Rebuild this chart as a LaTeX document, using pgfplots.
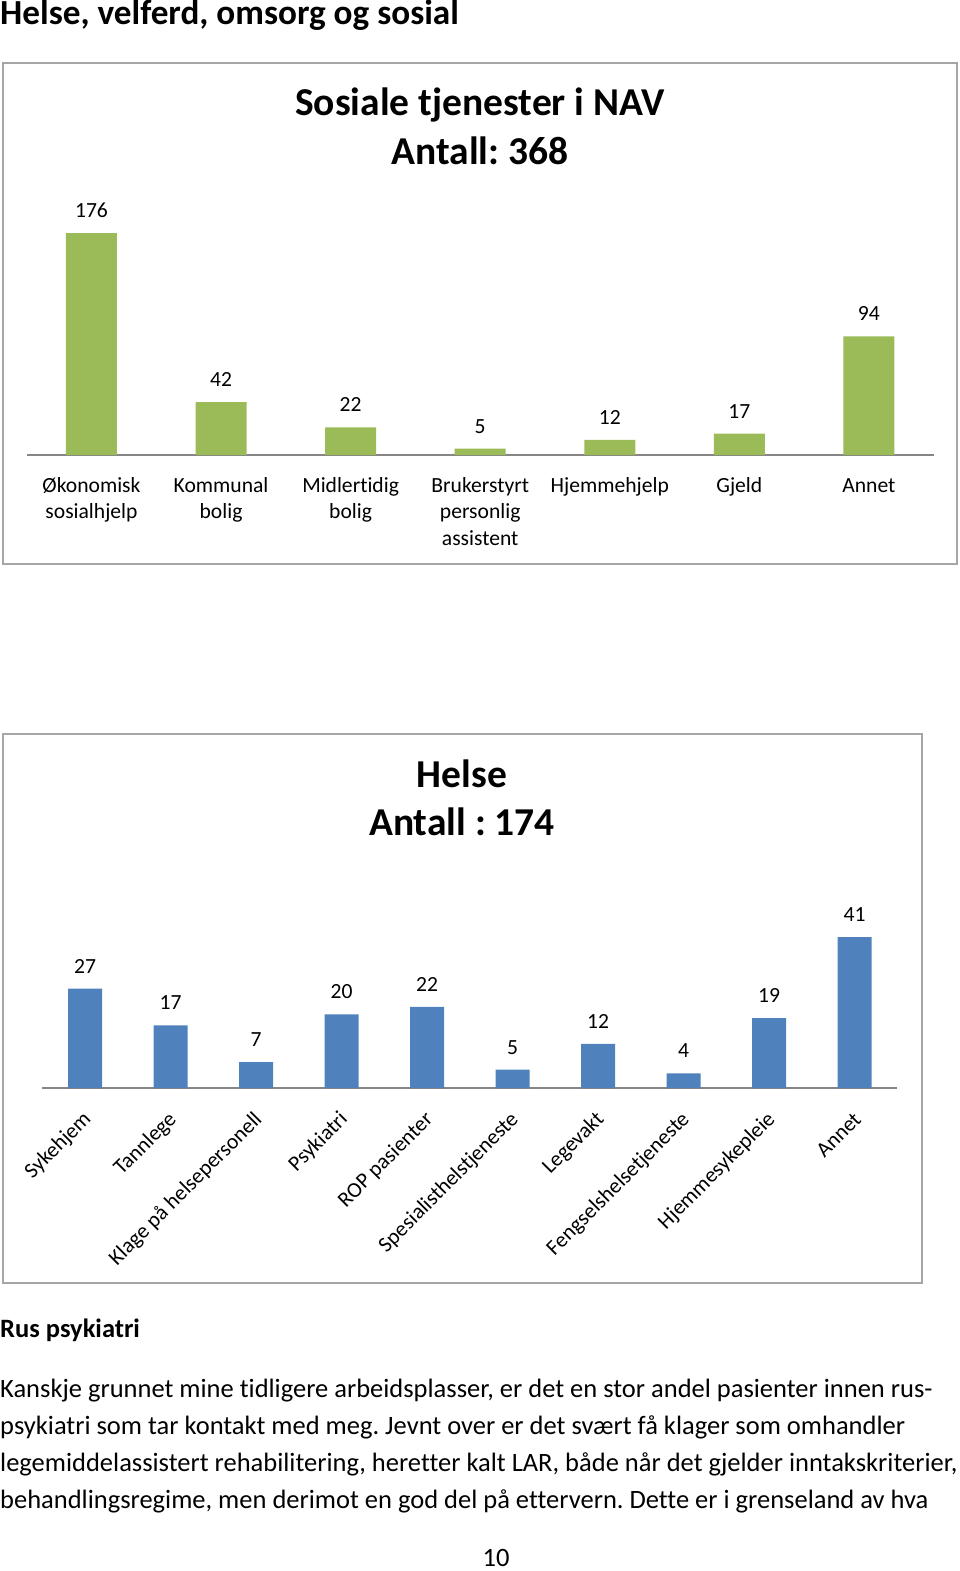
\documentclass[border=0pt]{standalone}
\usepackage{fontspec}
\setmainfont{Carlito}[Ligatures=NoCommon]
\usepackage{pgfplots}
\pgfplotsset{compat=1.18}
\definecolor{barG}{HTML}{9BBB59}
\definecolor{barB}{HTML}{4F81BD}
\definecolor{axisG}{HTML}{868686}
\definecolor{frameG}{HTML}{A6A6A6}
\frenchspacing
\newcommand{\lblfont}{\fontsize{21.6}{26.7}\selectfont}
\pgfplotsset{
  mybars/.style={
    scale only axis,
    axis x line=bottom, axis y line=none,
    x axis line style={-, draw=axisG, line width=2pt},
    xtick=data, xtick style={draw=none}, ytick=\empty,
    ybar=0pt, clip=false,
    nodes near coords,
    every node near coord/.append style={font=\lblfont, anchor=base, yshift=15.5pt, inner sep=0pt, text=black},
    /pgf/number format/assume math mode=true,
  }
}
\begin{document}
\begin{tikzpicture}[x=1pt,y=1pt]
\useasboundingbox (0pt,0pt) rectangle (960pt,-1571pt);
% page heading
\node[anchor=base west, inner sep=0pt, font=\fontsize{35.2}{40}\selectfont\bfseries] at (0pt,-25pt) {Helse, velferd, omsorg og sosial};
% chart 1
\draw[frameG, line width=2pt] (3pt,-63pt) rectangle (957pt,-564pt);
\node[anchor=base, inner sep=0pt, font=\fontsize{39.5}{48}\selectfont\bfseries] at (480pt,-115pt) {Sosiale tjenester i NAV};
\node[anchor=base, inner sep=0pt, font=\fontsize{39.5}{48}\selectfont\bfseries] at (480pt,-164pt) {Antall: 368};
\begin{axis}[mybars,
  at={(26.7pt,-455pt)}, anchor=south west,
  width=907pt, height=222pt,
  xmin=-0.5, xmax=6.5, ymin=0, ymax=176,
  bar width=51pt,
  xticklabels={{\strut Økonomisk\\sosialhjelp},{\strut Kommunal\\bolig},{\strut Midlertidig\\bolig},{\strut Brukerstyrt\\personlig\\assistent},{\strut Hjemmehjelp},{\strut Gjeld},{\strut Annet}},
  xticklabel style={font=\lblfont, align=center, anchor=north, inner sep=0pt, yshift=-14pt},
]
\addplot[fill=barG, draw=none] coordinates {(0,176) (1,42) (2,22) (3,5) (4,12) (5,17) (6,94)};
\end{axis}
% chart 2
\draw[frameG, line width=2pt] (3pt,-734pt) rectangle (922pt,-1283pt);
\node[anchor=base, inner sep=0pt, font=\fontsize{39.5}{48}\selectfont\bfseries] at (462pt,-787pt) {Helse};
\node[anchor=base, inner sep=0pt, font=\fontsize{39.5}{48}\selectfont\bfseries] at (462pt,-835pt) {Antall : 174};
\begin{axis}[mybars,
  at={(42.25pt,-1088pt)}, anchor=south west,
  width=855pt, height=151pt,
  xmin=-0.5, xmax=9.5, ymin=0, ymax=41,
  bar width=34pt,
  xticklabels={Sykehjem,Tannlege,Klage på helsepersonell,Psykiatri,ROP pasienter,Spesialisthelstjeneste,Legevakt,Fengselshelsetjeneste,Hjemmesykepleie,Annet},
  xticklabel style={font=\lblfont, inner sep=0pt, yshift=-24pt, xshift=3pt, rotate=45, anchor=east},
]
\addplot[fill=barB, draw=none] coordinates {(0,27) (1,17) (2,7) (3,20) (4,22) (5,5) (6,12) (7,4) (8,19) (9,41)};
\end{axis}
% text
\node[anchor=base west, inner sep=0pt, font=\fontsize{26.5}{37}\selectfont\bfseries] at (0pt,-1337pt) {Rus psykiatri};
\node[anchor=base west, inner sep=0pt, font=\fontsize{26.5}{37}\selectfont] at (0pt,-1397pt) {Kanskje grunnet mine tidligere arbeidsplasser, er det en stor andel pasienter innen rus-};
\node[anchor=base west, inner sep=0pt, font=\fontsize{26.5}{37}\selectfont] at (0pt,-1434pt) {psykiatri som tar kontakt med meg. Jevnt over er det svært få klager som omhandler};
\node[anchor=base west, inner sep=0pt, font=\fontsize{26.5}{37}\selectfont] at (0pt,-1471pt) {legemiddelassistert rehabilitering, heretter kalt LAR, både når det gjelder inntakskriterier,};
\node[anchor=base west, inner sep=0pt, font=\fontsize{26.5}{37}\selectfont] at (0pt,-1508pt) {behandlingsregime, men derimot en god del på ettervern. Dette er i grenseland av hva};
\node[anchor=base, inner sep=0pt, font=\fontsize{26.5}{37}\selectfont] at (496pt,-1566pt) {10};
\end{tikzpicture}
\end{document}
